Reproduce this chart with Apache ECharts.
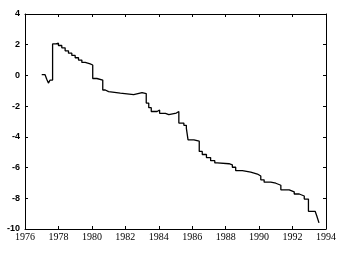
<!DOCTYPE html>
<html><head><meta charset="utf-8">
<script src="https://cdn.jsdelivr.net/npm/echarts@6/dist/echarts.min.js"></script>
<style>html,body{margin:0;padding:0;background:#fff}#c{width:339px;height:254px}</style>
</head><body><div id="c"></div>
<script>
var years = [1977.0,1977.2,1977.3,1977.4,1977.5,1977.65,1977.85,1978.0,1978.2,1978.4,1978.6,1978.8,1979.0,1979.2,1979.4,1979.6,1979.9,1980.05,1980.3,1980.65,1980.8,1981.0,1981.7,1981.8,1982.1,1982.5,1983.0,1983.25,1983.4,1983.55,1983.9,1984.0,1984.05,1984.4,1984.6,1985.05,1985.2,1985.5,1985.65,1985.75,1986.1,1986.42,1986.6,1986.85,1987.1,1987.35,1987.5,1988.2,1988.4,1988.6,1989.0,1989.5,1989.9,1990.1,1990.3,1990.7,1991.0,1991.3,1991.8,1992.1,1992.4,1992.7,1992.95,1993.35,1993.45,1993.55,1993.58];
var values = [0.05,0.0,-0.25,-0.5,-0.3,2.05,2.1,1.95,1.8,1.6,1.45,1.3,1.15,1.0,0.85,0.75,0.68,-0.2,-0.3,-0.95,-1.05,-1.15,-1.1,-1.2,-1.25,-1.12,-1.18,-1.8,-2.1,-2.35,-2.45,-2.25,-2.47,-2.55,-2.45,-2.35,-3.1,-3.25,-3.45,-4.2,-4.28,-4.95,-5.15,-5.35,-5.55,-5.7,-5.75,-5.82,-5.98,-6.2,-6.3,-6.42,-6.55,-6.8,-6.95,-7.02,-7.15,-7.45,-7.58,-7.72,-7.85,-8.05,-8.85,-8.95,-9.15,-9.25,-9.6];
var xTicks = [1976,1978,1980,1982,1984,1986,1988,1990,1992,1994];
var yTicks = [-10,-8,-6,-4,-2,0,2,4];

var data = years.map(function(y,i){return [y, values[i]];});
var chart = echarts.init(document.getElementById('c'));
var axLine = {show:true, onZero:false, lineStyle:{color:'#000', width:1}};
var tick = {show:true, inside:true, length:3, lineStyle:{color:'#000'}};
chart.setOption({
  animation:false,
  grid:{left:25, right:13, top:14, bottom:25},
  xAxis:[{type:'value', min:xTicks[0], max:xTicks[xTicks.length-1], interval:2, position:'bottom',
    axisLine:axLine, axisTick:tick, splitLine:{show:false},
    axisLabel:{color:'#000', fontFamily:'Liberation Serif', fontSize:10, margin:3, formatter:function(v){return String(v);}}},
   {type:'value', min:xTicks[0], max:xTicks[xTicks.length-1], interval:2, position:'top',
    axisLine:axLine, axisTick:tick, splitLine:{show:false}, axisLabel:{show:false}}],
  yAxis:[{type:'value', min:yTicks[0], max:yTicks[yTicks.length-1], interval:2, position:'left',
    axisLine:axLine, axisTick:tick, splitLine:{show:false},
    axisLabel:{color:'#000', fontFamily:'Liberation Sans', fontWeight:'bold', fontSize:9, margin:5}},
   {type:'value', min:yTicks[0], max:yTicks[yTicks.length-1], interval:2, position:'right',
    axisLine:axLine, axisTick:tick, splitLine:{show:false}, axisLabel:{show:false}}],
  series:[{type:'line', data:data, step:'end', showSymbol:false, symbol:'none',
    lineStyle:{color:'#000', width:1.3}}]
});
</script></body></html>
